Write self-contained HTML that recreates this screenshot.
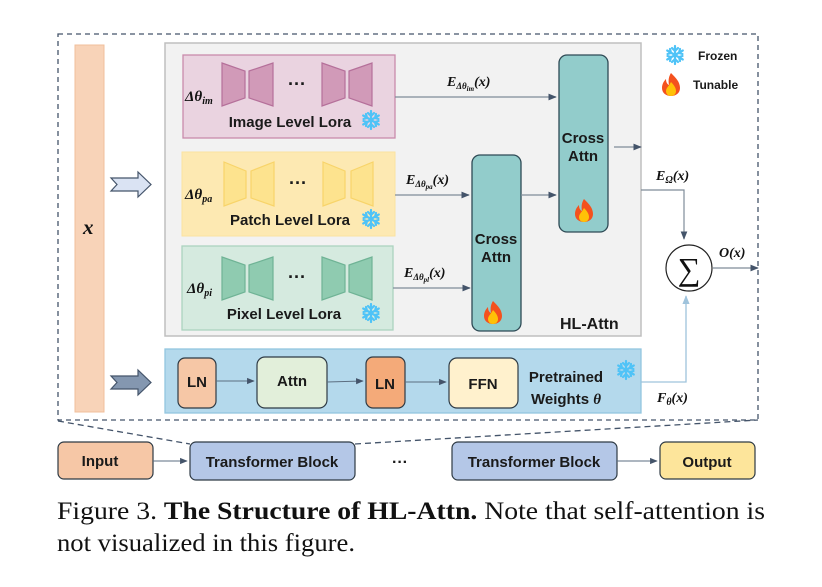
<!DOCTYPE html>
<html><head><meta charset="utf-8"><style>
html,body{margin:0;padding:0;background:#fff;}
svg{display:block;}
.b{font-family:"Liberation Sans",sans-serif;font-weight:bold;fill:#1a1a1a;}
.m{font-family:"Liberation Serif",serif;font-weight:bold;font-style:italic;fill:#111;}
</style></head><body>
<svg width="822" height="587" viewBox="0 0 822 587" xmlns="http://www.w3.org/2000/svg">
<defs>
<marker id="ar" viewBox="0 0 10 10" refX="9" refY="5" markerWidth="7" markerHeight="7" orient="auto"><path d="M0,1 L10,5 L0,9 z" fill="#44546a"/></marker>
<marker id="arl" viewBox="0 0 10 10" refX="9" refY="5" markerWidth="7" markerHeight="7" orient="auto"><path d="M0,1 L10,5 L0,9 z" fill="#9fc3dc"/></marker>
<g id="flame">
<path d="M0,-11 C5,-6 9,-2 9,4 C9,9 5,12 0,12 C-5,12 -9,9 -9,4 C-9,0 -7,-3 -5,-5 C-5,-2 -4,0 -2,1 C-3,-4 -2,-8 0,-11 z" fill="#f4511e"/>
<path d="M0,-2 C3,1 5,4 5,7 C5,10 3,12 0,12 C-3,12 -5,10 -5,7 C-5,4 -2,2 0,-2 z" fill="#ffc107"/>
</g>
<g id="snow" stroke="#4fc3f7" stroke-width="2.2" stroke-linecap="round" fill="none">
<path d="M0,-9 V9 M-7.8,-4.5 L7.8,4.5 M-7.8,4.5 L7.8,-4.5"/>
<path d="M-3,-7 L0,-4 L3,-7 M-3,7 L0,4 L3,7 M-7.5,-1 L-4,-2 L-5,-6 M7.5,1 L4,2 L5,6 M-7.5,1 L-4,2 L-5,6 M7.5,-1 L4,-2 L5,-6"/>
</g>
</defs>

<rect x="58" y="34" width="700" height="386" fill="none" stroke="#44546a" stroke-width="1.3" stroke-dasharray="5,4"/>
<line x1="58" y1="421" x2="190" y2="444" stroke="#44546a" stroke-width="1.3" stroke-dasharray="6,4"/>
<line x1="355" y1="444" x2="758" y2="420" stroke="#44546a" stroke-width="1.3" stroke-dasharray="6,4"/>

<rect x="75" y="45" width="29" height="367" fill="#f8d3b8" stroke="#f0bf9b"/>
<text x="83" y="234" class="m" font-size="21" font-weight="normal">x</text>

<path d="M111,178 H138 V172 L151,184.5 L138,197 V191 H111 L117,184.5 z" fill="#dae3f3" stroke="#44546a" stroke-width="1.2"/>
<path d="M111,376 H138 V370 L151,382.5 L138,395 V389 H111 L117,382.5 z" fill="#8497b0" stroke="#44546a" stroke-width="1.2"/>

<rect x="165" y="43" width="476" height="293" fill="#f2f2f2" stroke="#bfbfbf" stroke-width="1.5"/>
<text x="560" y="329" class="b" font-size="16">HL-Attn</text>

<rect x="183" y="55" width="212" height="83" fill="#ead3e0" stroke="#c98bab" stroke-width="1.3"/>
<rect x="182" y="152" width="213" height="84" fill="#fde9b2" stroke="#fbe2a0" stroke-width="1"/>
<rect x="182" y="246" width="211" height="84" fill="#d5eadf" stroke="#acd3bf" stroke-width="1.3"/>

<g stroke-width="1.2">
<g fill="#d19ab8" stroke="#b5709a">
<path d="M222,63 L245,71 V98 L222,106 z"/><path d="M249,71 L273,63 V106 L249,98 z"/>
<path d="M322,63 L345,71 V98 L322,106 z"/><path d="M349,71 L372,63 V106 L349,98 z"/>
</g>
<g fill="#fde38e" stroke="#f8d46a">
<path d="M224,162 L246,171 V198 L224,206 z"/><path d="M251,171 L274,162 V206 L251,198 z"/>
<path d="M323,162 L345,171 V198 L323,206 z"/><path d="M351,171 L373,162 V206 L351,198 z"/>
</g>
<g fill="#8fcbb0" stroke="#6fb395">
<path d="M222,257 L245,265 V292 L222,300 z"/><path d="M249,265 L273,257 V300 L249,292 z"/>
<path d="M322,257 L345,265 V292 L322,300 z"/><path d="M349,265 L372,257 V300 L349,292 z"/>
</g>
</g>
<text x="297" y="90" class="b" font-size="18" text-anchor="middle">···</text>
<text x="298" y="189" class="b" font-size="18" text-anchor="middle">···</text>
<text x="297" y="283" class="b" font-size="18" text-anchor="middle">···</text>

<text x="185" y="101" class="m" font-size="15">Δθ<tspan font-size="10" dy="3">im</tspan></text>
<text x="185" y="199" class="m" font-size="15">Δθ<tspan font-size="10" dy="3">pa</tspan></text>
<text x="187" y="293" class="m" font-size="15">Δθ<tspan font-size="10" dy="3">pi</tspan></text>

<text x="290" y="127" class="b" font-size="15" text-anchor="middle">Image Level Lora</text>
<text x="290" y="225" class="b" font-size="15" text-anchor="middle">Patch Level Lora</text>
<text x="284" y="319" class="b" font-size="15" text-anchor="middle">Pixel Level Lora</text>
<use href="#snow" x="371" y="120"/>
<use href="#snow" x="371" y="219"/>
<use href="#snow" x="371" y="313"/>

<rect x="472" y="155" width="49" height="176" rx="8" fill="#92cccb" stroke="#2e4a55" stroke-width="1.3"/>
<rect x="559" y="55" width="49" height="177" rx="8" fill="#92cccb" stroke="#2e4a55" stroke-width="1.3"/>
<text x="496" y="244" class="b" font-size="15" text-anchor="middle">Cross</text>
<text x="496" y="262" class="b" font-size="15" text-anchor="middle">Attn</text>
<text x="583" y="143" class="b" font-size="15" text-anchor="middle">Cross</text>
<text x="583" y="161" class="b" font-size="15" text-anchor="middle">Attn</text>
<use href="#flame" x="493" y="312"/>
<use href="#flame" x="584" y="210"/>

<g stroke="#7f8c99" stroke-width="1.2" fill="none" marker-end="url(#ar)">
<line x1="395" y1="97" x2="556" y2="97"/>
<line x1="395" y1="195" x2="469" y2="195"/>
<line x1="521" y1="195" x2="556" y2="195"/>
<line x1="393" y1="288" x2="470" y2="288"/>
<line x1="614" y1="147" x2="641" y2="147"/>
<polyline points="641,190 684,190 684,239"/>
<line x1="713" y1="268" x2="758" y2="268"/>
</g>
<text x="447" y="86" class="m" font-size="14">E<tspan font-size="9" dy="3">Δθ</tspan><tspan font-size="7" dy="2">im</tspan><tspan dy="-5">(x)</tspan></text>
<text x="406" y="184" class="m" font-size="14">E<tspan font-size="9" dy="3">Δθ</tspan><tspan font-size="7" dy="2">pa</tspan><tspan dy="-5">(x)</tspan></text>
<text x="404" y="277" class="m" font-size="14">E<tspan font-size="9" dy="3">Δθ</tspan><tspan font-size="7" dy="2">pl</tspan><tspan dy="-5">(x)</tspan></text>
<text x="656" y="180" class="m" font-size="14">E<tspan font-size="10" dy="3">Ω</tspan><tspan dy="-3">(x)</tspan></text>
<text x="719" y="257" class="m" font-size="14">O(x)</text>
<text x="657" y="402" class="m" font-size="14">F<tspan font-size="10" dy="3">θ</tspan><tspan dy="-3">(x)</tspan></text>

<circle cx="689" cy="268" r="23" fill="#fff" stroke="#222" stroke-width="1.2"/>
<text x="689" y="280" font-family="Liberation Serif,serif" font-size="32" text-anchor="middle" fill="#111">∑</text>

<rect x="165" y="349" width="476" height="64" fill="#b4d9ec" stroke="#93c5df" stroke-width="1.3"/>
<polyline points="641,382 686,382 686,296" stroke="#9fc3dc" stroke-width="1.3" fill="none" marker-end="url(#arl)"/>
<rect x="178" y="358" width="38" height="50" rx="7" fill="#f6c7a6" stroke="#2e3a44" stroke-width="1.2"/>
<rect x="257" y="357" width="70" height="51" rx="8" fill="#e2efda" stroke="#2e3a44" stroke-width="1.2"/>
<rect x="366" y="357" width="39" height="51" rx="7" fill="#f4aa79" stroke="#2e3a44" stroke-width="1.2"/>
<rect x="449" y="358" width="69" height="50" rx="8" fill="#fff1cd" stroke="#2e3a44" stroke-width="1.2"/>
<g stroke="#5b6e80" stroke-width="1.1" marker-end="url(#ar)">
<line x1="216" y1="381" x2="254" y2="381"/>
<line x1="327" y1="382" x2="363" y2="381"/>
<line x1="405" y1="382" x2="446" y2="382"/>
</g>
<text x="197" y="387" class="b" font-size="15" text-anchor="middle">LN</text>
<text x="292" y="386" class="b" font-size="15" text-anchor="middle">Attn</text>
<text x="385" y="389" class="b" font-size="15" text-anchor="middle">LN</text>
<text x="483" y="389" class="b" font-size="15" text-anchor="middle">FFN</text>
<text x="566" y="382" class="b" font-size="15" text-anchor="middle">Pretrained</text>
<text x="566" y="404" class="b" font-size="15" text-anchor="middle">Weights <tspan font-family="Liberation Serif,serif" font-style="italic">θ</tspan></text>
<use href="#snow" x="626" y="370"/>

<use href="#snow" x="675" y="55"/>
<text x="698" y="60" class="b" font-size="12">Frozen</text>
<use href="#flame" x="671" y="84"/>
<text x="693" y="89" class="b" font-size="12">Tunable</text>

<rect x="58" y="442" width="95" height="37" rx="6" fill="#f6c7a6" stroke="#2e3a44" stroke-width="1.2"/>
<rect x="190" y="442" width="165" height="38" rx="6" fill="#b4c7e7" stroke="#2e3a44" stroke-width="1.2"/>
<rect x="452" y="442" width="165" height="38" rx="6" fill="#b4c7e7" stroke="#2e3a44" stroke-width="1.2"/>
<rect x="660" y="442" width="95" height="37" rx="6" fill="#fde59b" stroke="#2e3a44" stroke-width="1.2"/>
<g stroke="#5b6e80" stroke-width="1.1" marker-end="url(#ar)">
<line x1="153" y1="461" x2="187" y2="461"/>
<line x1="617" y1="461" x2="657" y2="461"/>
</g>
<text x="100" y="466" class="b" font-size="15" text-anchor="middle">Input</text>
<text x="272" y="467" class="b" font-size="15" text-anchor="middle">Transformer Block</text>
<text x="400" y="467" class="b" font-size="16" text-anchor="middle">···</text>
<text x="534" y="467" class="b" font-size="15" text-anchor="middle">Transformer Block</text>
<text x="707" y="467" class="b" font-size="15" text-anchor="middle">Output</text>

<text x="57" y="519" font-family="Liberation Serif,serif" font-size="25" fill="#111" textLength="708" lengthAdjust="spacingAndGlyphs">Figure 3.  <tspan font-weight="bold">The Structure of HL-Attn.</tspan>  Note that self-attention is</text>
<text x="57" y="551" font-family="Liberation Serif,serif" font-size="25" fill="#111" textLength="298" lengthAdjust="spacingAndGlyphs">not visualized in this figure.</text>
</svg>
</body></html>
